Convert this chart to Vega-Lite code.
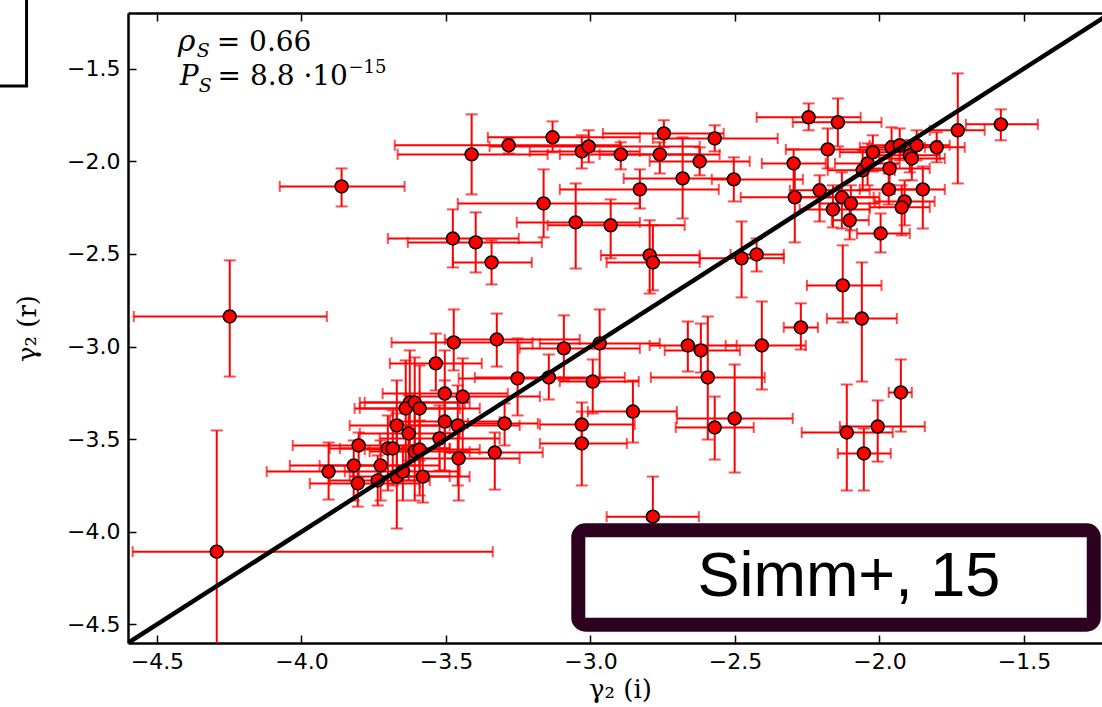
{
  "$schema": "https://vega.github.io/schema/vega-lite/v6.json",
  "width": 974,
  "height": 630,
  "autosize": {"type": "none"},
  "padding": {"left": 128, "top": 13, "right": 0, "bottom": 64},
  "background": "white",
  "config": {
    "view": {"stroke": null},
    "axis": {
      "grid": false,
      "labelFont": "DejaVu Sans",
      "labelFontSize": 22,
      "labelColor": "#000",
      "domainColor": "#000",
      "domainWidth": 2.5,
      "tickColor": "#000",
      "tickWidth": 1.5,
      "tickSize": -8,
      "titleFont": "DejaVu Serif",
      "titleFontSize": 26,
      "titleFontWeight": "normal",
      "titleColor": "#000"
    }
  },
  "datasets": {
    "one": [{"k": 1}],
    "pts": [
      {"x":-3.861,"y":-2.136,"xl":-4.075,"xh":-3.643,"yl":-2.244,"yh":-2.039},
      {"x":-3.411,"y":-1.963,"xl":-3.667,"xh":-3.148,"yl":-2.179,"yh":-1.747},
      {"x":-3.283,"y":-1.914,"xl":-3.677,"xh":-2.899,"yl":-1.958,"yh":-1.877},
      {"x":-3.131,"y":-1.871,"xl":-3.355,"xh":-2.829,"yl":-1.952,"yh":-1.785},
      {"x":-3.162,"y":-2.228,"xl":-3.459,"xh":-2.829,"yl":-2.411,"yh":-2.044},
      {"x":-3.476,"y":-2.417,"xl":-3.701,"xh":-3.248,"yl":-2.573,"yh":-2.260},
      {"x":-3.397,"y":-2.438,"xl":-3.632,"xh":-3.168,"yl":-2.600,"yh":-2.276},
      {"x":-3.342,"y":-2.546,"xl":-3.476,"xh":-3.203,"yl":-2.665,"yh":-2.427},
      {"x":-3.051,"y":-2.330,"xl":-3.255,"xh":-2.829,"yl":-2.579,"yh":-2.120},
      {"x":-2.930,"y":-2.346,"xl":-3.148,"xh":-2.674,"yl":-2.524,"yh":-2.206},
      {"x":-3.030,"y":-1.947,"xl":-3.210,"xh":-2.829,"yl":-2.039,"yh":-1.860},
      {"x":-3.006,"y":-1.920,"xl":-3.349,"xh":-2.622,"yl":-2.006,"yh":-1.833},
      {"x":-2.895,"y":-1.963,"xl":-3.106,"xh":-2.622,"yl":-2.044,"yh":-1.898},
      {"x":-2.760,"y":-1.963,"xl":-2.968,"xh":-2.553,"yl":-2.066,"yh":-1.898},
      {"x":-2.746,"y":-1.850,"xl":-2.957,"xh":-2.539,"yl":-1.925,"yh":-1.779},
      {"x":-2.622,"y":-2.001,"xl":-2.795,"xh":-2.449,"yl":-2.076,"yh":-1.925},
      {"x":-2.570,"y":-1.877,"xl":-2.784,"xh":-2.352,"yl":-1.947,"yh":-1.806},
      {"x":-2.681,"y":-2.093,"xl":-2.885,"xh":-2.504,"yl":-2.309,"yh":-1.871},
      {"x":-2.504,"y":-2.098,"xl":-2.580,"xh":-2.265,"yl":-2.217,"yh":-1.979},
      {"x":-2.829,"y":-2.152,"xl":-3.106,"xh":-2.556,"yl":-2.255,"yh":-2.044},
      {"x":-2.795,"y":-2.508,"xl":-2.964,"xh":-2.622,"yl":-2.714,"yh":-2.319},
      {"x":-2.784,"y":-2.546,"xl":-2.944,"xh":-2.622,"yl":-2.697,"yh":-2.346},
      {"x":-2.477,"y":-2.524,"xl":-2.622,"xh":-2.331,"yl":-2.735,"yh":-2.325},
      {"x":-2.425,"y":-2.503,"xl":-2.515,"xh":-2.331,"yl":-2.595,"yh":-2.417},
      {"x":-2.245,"y":-1.763,"xl":-2.425,"xh":-2.065,"yl":-1.833,"yh":-1.688},
      {"x":-2.144,"y":-1.790,"xl":-2.300,"xh":-1.993,"yl":-1.920,"yh":-1.661},
      {"x":-2.179,"y":-1.936,"xl":-2.324,"xh":-1.926,"yl":-2.039,"yh":-1.823},
      {"x":-2.297,"y":-2.012,"xl":-2.407,"xh":-2.186,"yl":-2.195,"yh":-1.936},
      {"x":-2.207,"y":-2.157,"xl":-2.310,"xh":-2.034,"yl":-2.325,"yh":-2.076},
      {"x":-2.293,"y":-2.195,"xl":-2.480,"xh":-2.020,"yl":-2.438,"yh":-2.012},
      {"x":-2.130,"y":-2.195,"xl":-2.276,"xh":-2.000,"yl":-2.363,"yh":-2.060},
      {"x":-2.099,"y":-2.228,"xl":-2.207,"xh":-2.000,"yl":-2.373,"yh":-2.130},
      {"x":-2.161,"y":-2.260,"xl":-2.276,"xh":-2.034,"yl":-2.357,"yh":-2.130},
      {"x":-2.103,"y":-2.319,"xl":-2.165,"xh":-2.037,"yl":-2.422,"yh":-2.206},
      {"x":-2.058,"y":-2.049,"xl":-2.179,"xh":-1.947,"yl":-2.157,"yh":-1.941},
      {"x":-2.041,"y":-2.012,"xl":-2.154,"xh":-1.930,"yl":-2.130,"yh":-1.904},
      {"x":-2.023,"y":-1.952,"xl":-2.137,"xh":-1.913,"yl":-2.055,"yh":-1.860},
      {"x":-1.965,"y":-2.039,"xl":-2.068,"xh":-1.826,"yl":-2.157,"yh":-1.941},
      {"x":-1.968,"y":-2.152,"xl":-2.068,"xh":-1.860,"yl":-2.233,"yh":-2.066},
      {"x":-1.958,"y":-1.925,"xl":-2.068,"xh":-1.843,"yl":-2.022,"yh":-1.817},
      {"x":-1.930,"y":-1.914,"xl":-2.034,"xh":-1.791,"yl":-1.995,"yh":-1.823},
      {"x":-1.895,"y":-1.968,"xl":-2.000,"xh":-1.791,"yl":-2.060,"yh":-1.887},
      {"x":-1.871,"y":-1.914,"xl":-1.965,"xh":-1.757,"yl":-1.995,"yh":-1.833},
      {"x":-1.888,"y":-1.985,"xl":-2.000,"xh":-1.774,"yl":-2.103,"yh":-1.887},
      {"x":-1.802,"y":-1.925,"xl":-1.895,"xh":-1.705,"yl":-2.006,"yh":-1.844},
      {"x":-1.729,"y":-1.833,"xl":-1.826,"xh":-1.636,"yl":-2.120,"yh":-1.526},
      {"x":-1.580,"y":-1.801,"xl":-1.701,"xh":-1.452,"yl":-1.887,"yh":-1.720},
      {"x":-1.850,"y":-2.152,"xl":-1.947,"xh":-1.774,"yl":-2.363,"yh":-2.028},
      {"x":-1.913,"y":-2.217,"xl":-2.016,"xh":-1.809,"yl":-2.346,"yh":-2.103},
      {"x":-1.923,"y":-2.249,"xl":-2.034,"xh":-1.826,"yl":-2.400,"yh":-2.130},
      {"x":-1.996,"y":-2.390,"xl":-2.078,"xh":-1.895,"yl":-2.492,"yh":-2.282},
      {"x":-2.127,"y":-2.670,"xl":-2.251,"xh":-1.993,"yl":-2.870,"yh":-2.454},
      {"x":-2.061,"y":-2.849,"xl":-2.182,"xh":-1.940,"yl":-3.189,"yh":-2.546},
      {"x":-2.272,"y":-2.897,"xl":-2.331,"xh":-2.213,"yl":-3.016,"yh":-2.767},
      {"x":-3.092,"y":-3.010,"xl":-3.245,"xh":-2.829,"yl":-3.183,"yh":-2.832},
      {"x":-2.968,"y":-2.983,"xl":-3.175,"xh":-2.760,"yl":-3.172,"yh":-2.800},
      {"x":-2.663,"y":-2.994,"xl":-2.795,"xh":-2.494,"yl":-3.135,"yh":-2.865},
      {"x":-2.618,"y":-3.021,"xl":-2.743,"xh":-2.483,"yl":-3.140,"yh":-2.876},
      {"x":-2.407,"y":-2.994,"xl":-2.532,"xh":-2.255,"yl":-3.232,"yh":-2.757},
      {"x":-2.594,"y":-3.167,"xl":-2.791,"xh":-2.397,"yl":-3.502,"yh":-2.838},
      {"x":-2.992,"y":-3.189,"xl":-3.106,"xh":-2.833,"yl":-3.361,"yh":-3.070},
      {"x":-2.853,"y":-3.351,"xl":-3.009,"xh":-2.701,"yl":-3.518,"yh":-3.183},
      {"x":-3.030,"y":-3.421,"xl":-3.175,"xh":-2.847,"yl":-3.534,"yh":-3.302},
      {"x":-3.030,"y":-3.523,"xl":-3.175,"xh":-2.874,"yl":-3.750,"yh":-3.351},
      {"x":-2.501,"y":-3.388,"xl":-2.701,"xh":-2.300,"yl":-3.680,"yh":-3.097},
      {"x":-2.570,"y":-3.437,"xl":-2.705,"xh":-2.435,"yl":-3.610,"yh":-3.270},
      {"x":-2.784,"y":-3.918,"xl":-2.944,"xh":-2.625,"yl":-4.134,"yh":-3.702},
      {"x":-1.926,"y":-3.248,"xl":-1.968,"xh":-1.888,"yl":-3.459,"yh":-3.070},
      {"x":-2.113,"y":-3.464,"xl":-2.269,"xh":-1.954,"yl":-3.777,"yh":-3.205},
      {"x":-2.006,"y":-3.432,"xl":-2.137,"xh":-1.843,"yl":-3.621,"yh":-3.291},
      {"x":-2.054,"y":-3.577,"xl":-2.144,"xh":-1.961,"yl":-3.777,"yh":-3.442},
      {"x":-3.473,"y":-2.978,"xl":-3.688,"xh":-3.200,"yl":-3.129,"yh":-2.800},
      {"x":-3.324,"y":-2.962,"xl":-3.504,"xh":-3.037,"yl":-3.108,"yh":-2.822},
      {"x":-3.535,"y":-3.091,"xl":-3.694,"xh":-3.376,"yl":-3.237,"yh":-2.930},
      {"x":-3.252,"y":-3.172,"xl":-3.456,"xh":-2.968,"yl":-3.372,"yh":-2.956},
      {"x":-3.144,"y":-3.167,"xl":-3.400,"xh":-2.881,"yl":-3.286,"yh":-3.043},
      {"x":-3.504,"y":-3.254,"xl":-3.719,"xh":-3.286,"yl":-3.464,"yh":-3.021},
      {"x":-3.442,"y":-3.270,"xl":-3.591,"xh":-3.175,"yl":-3.561,"yh":-3.064},
      {"x":-3.625,"y":-3.302,"xl":-3.798,"xh":-3.418,"yl":-3.615,"yh":-3.021},
      {"x":-3.639,"y":-3.334,"xl":-3.816,"xh":-3.452,"yl":-3.669,"yh":-3.075},
      {"x":-3.608,"y":-3.302,"xl":-3.781,"xh":-3.435,"yl":-3.534,"yh":-3.059},
      {"x":-3.591,"y":-3.334,"xl":-3.798,"xh":-3.383,"yl":-3.615,"yh":-3.102},
      {"x":-3.504,"y":-3.405,"xl":-3.694,"xh":-3.314,"yl":-3.669,"yh":-3.183},
      {"x":-3.459,"y":-3.426,"xl":-3.660,"xh":-3.245,"yl":-3.750,"yh":-3.210},
      {"x":-3.297,"y":-3.415,"xl":-3.424,"xh":-3.182,"yl":-3.534,"yh":-3.307},
      {"x":-3.670,"y":-3.426,"xl":-3.833,"xh":-3.487,"yl":-3.669,"yh":-3.183},
      {"x":-3.629,"y":-3.469,"xl":-3.798,"xh":-3.452,"yl":-3.723,"yh":-3.264},
      {"x":-3.522,"y":-3.496,"xl":-3.729,"xh":-3.314,"yl":-3.669,"yh":-3.318},
      {"x":-3.802,"y":-3.534,"xl":-4.030,"xh":-3.591,"yl":-3.707,"yh":-3.464},
      {"x":-3.701,"y":-3.550,"xl":-3.902,"xh":-3.487,"yl":-3.777,"yh":-3.372},
      {"x":-3.684,"y":-3.550,"xl":-3.867,"xh":-3.487,"yl":-3.750,"yh":-3.345},
      {"x":-3.608,"y":-3.567,"xl":-3.764,"xh":-3.418,"yl":-3.831,"yh":-3.345},
      {"x":-3.591,"y":-3.556,"xl":-3.781,"xh":-3.383,"yl":-3.804,"yh":-3.399},
      {"x":-3.456,"y":-3.604,"xl":-3.591,"xh":-3.245,"yl":-3.831,"yh":-3.453},
      {"x":-3.331,"y":-3.572,"xl":-3.504,"xh":-3.165,"yl":-3.772,"yh":-3.464},
      {"x":-3.906,"y":-3.675,"xl":-4.120,"xh":-3.822,"yl":-3.826,"yh":-3.518},
      {"x":-3.819,"y":-3.642,"xl":-4.040,"xh":-3.591,"yl":-3.831,"yh":-3.507},
      {"x":-3.726,"y":-3.642,"xl":-3.937,"xh":-3.522,"yl":-3.831,"yh":-3.507},
      {"x":-3.805,"y":-3.739,"xl":-3.971,"xh":-3.591,"yl":-3.864,"yh":-3.642},
      {"x":-3.736,"y":-3.723,"xl":-3.902,"xh":-3.556,"yl":-3.858,"yh":-3.588},
      {"x":-3.670,"y":-3.702,"xl":-3.833,"xh":-3.487,"yl":-3.982,"yh":-3.361},
      {"x":-3.649,"y":-3.675,"xl":-3.850,"xh":-3.452,"yl":-3.831,"yh":-3.534},
      {"x":-3.580,"y":-3.702,"xl":-3.729,"xh":-3.418,"yl":-3.842,"yh":-3.561},
      {"x":-4.248,"y":-2.838,"xl":-4.580,"xh":-3.912,"yl":-3.162,"yh":-2.535},
      {"x":-4.293,"y":-4.107,"xl":-4.584,"xh":-3.338,"yl":-4.8,"yh":-3.453}
    ]
  },
  "resolve": {"axis": {"x": "independent"}},
  "layer": [
    {
      "data": {"name": "pts"},
      "mark": {"type": "rule", "color": "#ff0000", "strokeWidth": 2, "clip": true},
      "encoding": {
        "x": {"field": "xl", "type": "quantitative",
              "scale": {"domain": [-4.6, -1.23], "nice": false, "zero": false},
              "axis": {"orient": "bottom", "values": [-4.5, -4, -3.5, -3, -2.5, -2, -1.5], "format": ".1f",
                       "labelPadding": 16, "title": "γ₂ (i)", "titlePadding": 4, "titleX": 492}},
        "x2": {"field": "xh"},
        "y": {"field": "y", "type": "quantitative",
              "scale": {"domain": [-4.6, -1.2], "nice": false, "zero": false},
              "axis": {"values": [-4.5, -4, -3.5, -3, -2.5, -2, -1.5], "format": ".1f",
                       "labelPadding": 16, "title": "γ₂ (r)", "titlePadding": 26}}
      }
    },
    {
      "data": {"name": "pts"},
      "mark": {"type": "rule", "color": "#ff0000", "strokeWidth": 2, "clip": true},
      "encoding": {
        "x": {"field": "x", "type": "quantitative",
              "axis": {"orient": "top", "values": [-4.5, -4, -3.5, -3, -2.5, -2, -1.5], "labels": false, "title": null}},
        "y": {"field": "yl", "type": "quantitative"},
        "y2": {"field": "yh"}
      }
    },
    {
      "data": {"name": "pts"},
      "mark": {"type": "tick", "orient": "vertical", "color": "#ff0000", "size": 11, "thickness": 2, "clip": true},
      "encoding": {
        "x": {"field": "xl", "type": "quantitative", "axis": null},
        "y": {"field": "y", "type": "quantitative"}
      }
    },
    {
      "data": {"name": "pts"},
      "mark": {"type": "tick", "orient": "vertical", "color": "#ff0000", "size": 11, "thickness": 2, "clip": true},
      "encoding": {
        "x": {"field": "xh", "type": "quantitative", "axis": null},
        "y": {"field": "y", "type": "quantitative"}
      }
    },
    {
      "data": {"name": "pts"},
      "mark": {"type": "tick", "orient": "horizontal", "color": "#ff0000", "size": 12, "thickness": 2, "clip": true},
      "encoding": {
        "x": {"field": "x", "type": "quantitative", "axis": null},
        "y": {"field": "yl", "type": "quantitative"}
      }
    },
    {
      "data": {"name": "pts"},
      "mark": {"type": "tick", "orient": "horizontal", "color": "#ff0000", "size": 12, "thickness": 2, "clip": true},
      "encoding": {
        "x": {"field": "x", "type": "quantitative", "axis": null},
        "y": {"field": "yh", "type": "quantitative"}
      }
    },
    {
      "data": {"name": "pts"},
      "mark": {"type": "point", "shape": "circle", "filled": true, "fill": "#ff0000", "stroke": "#000000", "strokeWidth": 1.6, "size": 165, "opacity": 1, "clip": true},
      "encoding": {
        "x": {"field": "x", "type": "quantitative", "axis": null},
        "y": {"field": "y", "type": "quantitative"}
      }
    },
    {
      "data": {"name": "one"},
      "mark": {"type": "rule", "color": "#000000", "strokeWidth": 4.5, "clip": true},
      "encoding": {
        "x": {"datum": -4.6, "type": "quantitative", "axis": null},
        "y": {"datum": -4.6, "type": "quantitative"},
        "x2": {"datum": -1.2},
        "y2": {"datum": -1.2}
      }
    },
    {
      "data": {"name": "one"},
      "mark": {"type": "text", "font": "DejaVu Serif", "fontStyle": "italic", "fontSize": 30, "align": "left", "baseline": "alphabetic", "color": "#000"},
      "encoding": {
        "x": {"datum": -4.428, "type": "quantitative", "axis": null},
        "y": {"datum": -1.407, "type": "quantitative"},
        "text": {"value": "ρ"}
      }
    },
    {
      "data": {"name": "one"},
      "mark": {"type": "text", "font": "DejaVu Serif", "fontStyle": "italic", "fontSize": 19, "align": "left", "baseline": "alphabetic", "color": "#000"},
      "encoding": {
        "x": {"datum": -4.362, "type": "quantitative", "axis": null},
        "y": {"datum": -1.439, "type": "quantitative"},
        "text": {"value": "S"}
      }
    },
    {
      "data": {"name": "one"},
      "mark": {"type": "text", "font": "DejaVu Serif", "fontSize": 28, "align": "left", "baseline": "alphabetic", "color": "#000"},
      "encoding": {
        "x": {"datum": -4.293, "type": "quantitative", "axis": null},
        "y": {"datum": -1.407, "type": "quantitative"},
        "text": {"value": "= 0.66"}
      }
    },
    {
      "data": {"name": "one"},
      "mark": {"type": "text", "font": "DejaVu Serif", "fontStyle": "italic", "fontSize": 28, "align": "left", "baseline": "alphabetic", "color": "#000"},
      "encoding": {
        "x": {"datum": -4.421, "type": "quantitative", "axis": null},
        "y": {"datum": -1.590, "type": "quantitative"},
        "text": {"value": "P"}
      }
    },
    {
      "data": {"name": "one"},
      "mark": {"type": "text", "font": "DejaVu Serif", "fontStyle": "italic", "fontSize": 19, "align": "left", "baseline": "alphabetic", "color": "#000"},
      "encoding": {
        "x": {"datum": -4.355, "type": "quantitative", "axis": null},
        "y": {"datum": -1.628, "type": "quantitative"},
        "text": {"value": "S"}
      }
    },
    {
      "data": {"name": "one"},
      "mark": {"type": "text", "font": "DejaVu Serif", "fontSize": 28, "align": "left", "baseline": "alphabetic", "color": "#000"},
      "encoding": {
        "x": {"datum": -4.290, "type": "quantitative", "axis": null},
        "y": {"datum": -1.590, "type": "quantitative"},
        "text": {"value": "= 8.8 ·10"}
      }
    },
    {
      "data": {"name": "one"},
      "mark": {"type": "text", "font": "DejaVu Serif", "fontSize": 18, "align": "left", "baseline": "alphabetic", "color": "#000"},
      "encoding": {
        "x": {"datum": -3.837, "type": "quantitative", "axis": null},
        "y": {"datum": -1.526, "type": "quantitative"},
        "text": {"value": "−15"}
      }
    },
    {
      "data": {"name": "one"},
      "mark": {"type": "rect", "fill": "#ffffff", "stroke": "#2e0020", "strokeWidth": 14, "cornerRadius": 7, "clip": false},
      "encoding": {
        "x": {"datum": -3.042, "type": "quantitative", "axis": null},
        "x2": {"datum": -1.2585},
        "y": {"datum": -3.992, "type": "quantitative"},
        "y2": {"datum": -4.501}
      }
    },
    {
      "data": {"name": "one"},
      "mark": {"type": "text", "font": "Liberation Sans", "fontSize": 63, "align": "center", "baseline": "alphabetic", "color": "#000"},
      "encoding": {
        "x": {"datum": -2.106, "type": "quantitative", "axis": null},
        "y": {"datum": -4.344, "type": "quantitative"},
        "text": {"value": "Simm+, 15"}
      }
    },
    {
      "data": {"name": "one"},
      "mark": {"type": "rect", "filled": false, "color": "#000000", "stroke": "#000000", "strokeWidth": 3, "clip": false},
      "encoding": {
        "x": {"datum": -5.4, "type": "quantitative", "axis": null},
        "x2": {"datum": -4.951},
        "y": {"datum": -0.9, "type": "quantitative"},
        "y2": {"datum": -1.594}
      }
    }
  ]
}
